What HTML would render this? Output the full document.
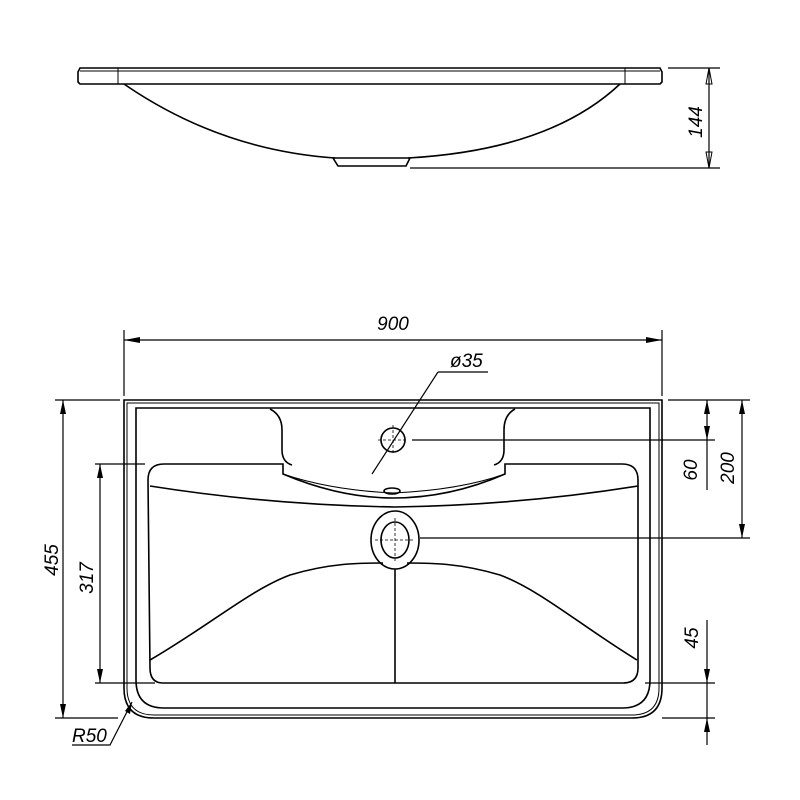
<!DOCTYPE html>
<html><head><style>body{margin:0;background:#fff}svg{display:block}text{font-family:"Liberation Sans",sans-serif;font-style:italic;font-size:19px;fill:#000}</style></head><body>
<svg width="800" height="800" viewBox="0 0 800 800" fill="none" stroke="#000" stroke-width="1.6">
<!-- side view -->
<path d="M80 68 H660 L662 72 V82 L660 84 H80 L78 82 V72 Z"/>
<line x1="80" y1="71" x2="660" y2="71" stroke-width="1"/>
<line x1="118" y1="68" x2="118" y2="84" stroke-width="1"/>
<line x1="625" y1="68" x2="625" y2="84" stroke-width="1"/>
<path d="M124 84 Q220 150 335 158 M408 158 Q550 150 620 84"/>
<path d="M333 158 H410 L406 166 H338 Z"/>
<line x1="668" y1="68" x2="720" y2="68" stroke-width="1.2"/>
<line x1="410" y1="168" x2="720" y2="168" stroke-width="1.2"/>
<line x1="709" y1="68" x2="709" y2="168" stroke-width="1.2"/>
<path d="M709 68 l-3 16 h6 Z M709 168 l-3 -16 h6 Z" stroke-width="1"/>
<text transform="translate(702 122) rotate(-90)" text-anchor="middle" stroke="none">144</text>
<!-- plan outer -->
<path d="M124 400 H662 V688 Q662 718 632 718 H154 Q124 718 124 688 Z"/>
<path d="M127 403 H659 V688 Q659 715 632 715 H154 Q127 715 127 688 Z" stroke-width="1"/>
<path d="M136 408 H650 V680 Q650 708 622 708 H164 Q136 708 136 680 Z"/>
<!-- deck cutout -->
<path d="M270 409 Q282 415 282 430 V450 Q282 462 292 465 M515 409 Q504 415 504 430 V450 Q504 462 494 465"/>
<path d="M148 480 Q148 464 164 464 H283 V474 Q340 498 393 498 Q450 498 505 474 V464 H622 Q638 464 638 480 V668 Q638 683 623 683 H163 Q150 683 150 668 Z"/>
<path d="M150 486 Q270 505 395 507 Q520 505 638 486"/>
<path d="M283 474 Q330 490 393 493 M505 474 Q460 490 393 493" stroke-width="1"/>
<ellipse cx="392" cy="491" rx="8" ry="3"/>
<!-- faucet hole -->
<circle cx="393" cy="440" r="12"/>
<path d="M378 440 H408 M393 425 V455" stroke-width="0.8" stroke-dasharray="3 2"/>
<line x1="372" y1="474" x2="438" y2="372" stroke-width="1.2"/>
<line x1="438" y1="372" x2="488" y2="372" stroke-width="1.2"/>
<text x="450" y="367" stroke="none">ø35</text>
<!-- drain -->
<ellipse cx="395" cy="540" rx="24" ry="29"/>
<ellipse cx="395" cy="540" rx="14" ry="18"/>
<path d="M375 540 H415 M395 518 V562" stroke-width="0.8" stroke-dasharray="3 2"/>
<path d="M150 660 C210 625 250 590 290 575 C330 563 360 563 383 563 M407 563 C430 563 460 563 500 575 C540 590 580 625 637 660"/>
<line x1="395" y1="569" x2="395" y2="683"/>
<g stroke-width="1.2">
<line x1="124" y1="330" x2="124" y2="396"/><line x1="662" y1="330" x2="662" y2="396"/>
<line x1="124" y1="340" x2="662" y2="340"/>
<line x1="668" y1="400" x2="750" y2="400"/><line x1="412" y1="440" x2="715" y2="440"/><line x1="420" y1="538" x2="750" y2="538"/>
<line x1="707" y1="400" x2="707" y2="490"/><line x1="742" y1="400" x2="742" y2="538"/>
<line x1="645" y1="683" x2="715" y2="683"/><line x1="662" y1="718" x2="715" y2="718"/>
<line x1="707" y1="620" x2="707" y2="745"/>
<line x1="55" y1="400" x2="120" y2="400"/><line x1="55" y1="718" x2="118" y2="718"/>
<line x1="63" y1="400" x2="63" y2="718"/>
<line x1="95" y1="464" x2="145" y2="464"/><line x1="95" y1="683" x2="155" y2="683"/>
<line x1="100" y1="464" x2="100" y2="683"/>
<polyline points="132,702 110,745 72,745"/>
</g>
<g fill="#000" stroke="none">
<path d="M124 340 l16 -3 v6Z M662 340 l-16 -3 v6Z M707 400 l-3 14 h6Z M707 440 l-3 -14 h6Z M742 400 l-3 14 h6Z M742 538 l-3 -14 h6Z M707 683 l-3 -14 h6Z M707 718 l-3 14 h6Z M63 400 l-3 14 h6Z M63 718 l-3 -14 h6Z M100 464 l-3 14 h6Z M100 683 l-3 -14 h6Z M132 702 l-2 12 l-5 -3Z"/>
</g>
<text x="393" y="330" text-anchor="middle" stroke="none">900</text>
<text transform="translate(697 470) rotate(-90)" text-anchor="middle" stroke="none">60</text>
<text transform="translate(734 468) rotate(-90)" text-anchor="middle" stroke="none">200</text>
<text transform="translate(698 638) rotate(-90)" text-anchor="middle" stroke="none">45</text>
<text transform="translate(58 560) rotate(-90)" text-anchor="middle" stroke="none">455</text>
<text transform="translate(93 578) rotate(-90)" text-anchor="middle" stroke="none">317</text>
<text x="72" y="742" stroke="none">R50</text>
</svg>
</body></html>
